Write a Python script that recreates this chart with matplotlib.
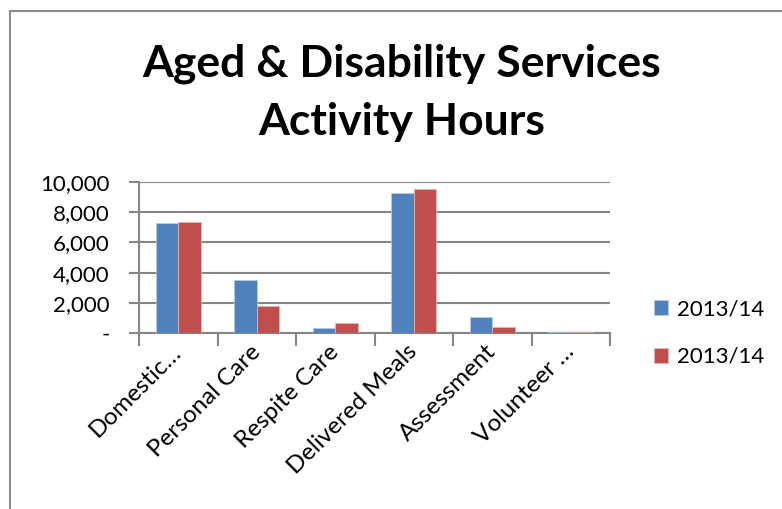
import numpy as np
from matplotlib import pyplot as plt
import matplotlib.patches as ptc
import matplotlib.transforms as mtrans
from matplotlib.ticker import FuncFormatter

# data
categories = ['Domestic…', 'Personal Care', 'Respite Care', 'Delivered Meals',
              'Assessment', 'Volunteer …']
series_a = [7300, 3510, 330, 9290, 1080, 70]
series_b = [7370, 1790, 680, 9540, 420, 70]
series_labels = ['2013/14', '2013/14']
yticks = [0, 2000, 4000, 6000, 8000, 10000]

blue = '#4f81bd'
red = '#c0504d'
grey = '#868686'

plt.rcParams['font.family'] = ['Lato', 'DejaVu Sans']

fig = plt.figure(figsize=(7.82, 5.09), dpi=100)
ax = fig.add_axes([139 / 782, 1 - 333 / 509, 471 / 782, 151 / 509])

# chart border (runs off the right and bottom edge)
border = ptc.Rectangle((10 / 782, -0.2), 1.2, 1.2 - 11 / 509, transform=fig.transFigure,
                       fill=False, edgecolor='#8c8c8c', linewidth=1.5, clip_on=False)
fig.patches.append(border)

x = np.arange(len(categories))
w = 1 / 3.5
ax.bar(x - w / 2, series_a, w, color=blue, edgecolor='#b9cde5', linewidth=0.5,
       label=series_labels[0], zorder=3)
ax.bar(x + w / 2, series_b, w, color=red, edgecolor='#e6b9b8', linewidth=0.5,
       label=series_labels[1], zorder=3)

ax.set_xlim(-0.5, len(categories) - 0.5)
ax.set_ylim(0, 10000)
ax.set_yticks(yticks)
ax.yaxis.set_major_formatter(FuncFormatter(lambda v, p: '-' if v == 0 else f'{int(v):,}'))
ax.grid(axis='y', color=grey, linewidth=1.5, zorder=0)

ax.set_xticks(x)
ax.set_xticklabels(categories, rotation=45, ha='right', va='center',
                   rotation_mode='anchor', fontsize=17.5)
# nudge the rotated labels to the right, like excel does
shift = mtrans.ScaledTranslation(11 / 100, 0, fig.dpi_scale_trans)
for lab in ax.get_xticklabels():
    lab.set_transform(lab.get_transform() + shift)
ax.set_xticks(np.arange(-0.5, len(categories)), minor=True)
ax.tick_params(axis='x', which='major', length=0, pad=11)
ax.tick_params(axis='x', which='minor', length=9, width=1.5, color=grey)
ax.tick_params(axis='y', length=7, width=1.5, color=grey, labelsize=16, pad=14)

for s in ['top', 'right']:
    ax.spines[s].set_visible(False)
for s in ['bottom', 'left']:
    ax.spines[s].set_color(grey)
    ax.spines[s].set_linewidth(1.5)

fig.text(402 / 782, 1 - 64 / 509, 'Aged & Disability Services', ha='center', va='center',
         fontsize=32, fontweight='bold')
fig.text(402 / 782, 1 - 122 / 509, 'Activity Hours', ha='center', va='center',
         fontsize=32, fontweight='bold')

leg = fig.legend(loc='center left', bbox_to_anchor=(634 / 782, 1 - 333 / 509),
                 frameon=False, fontsize=16, handlelength=0.65, handleheight=0.65,
                 labelspacing=1.25, handletextpad=0.4)

fig.savefig('out.png', dpi=100)
